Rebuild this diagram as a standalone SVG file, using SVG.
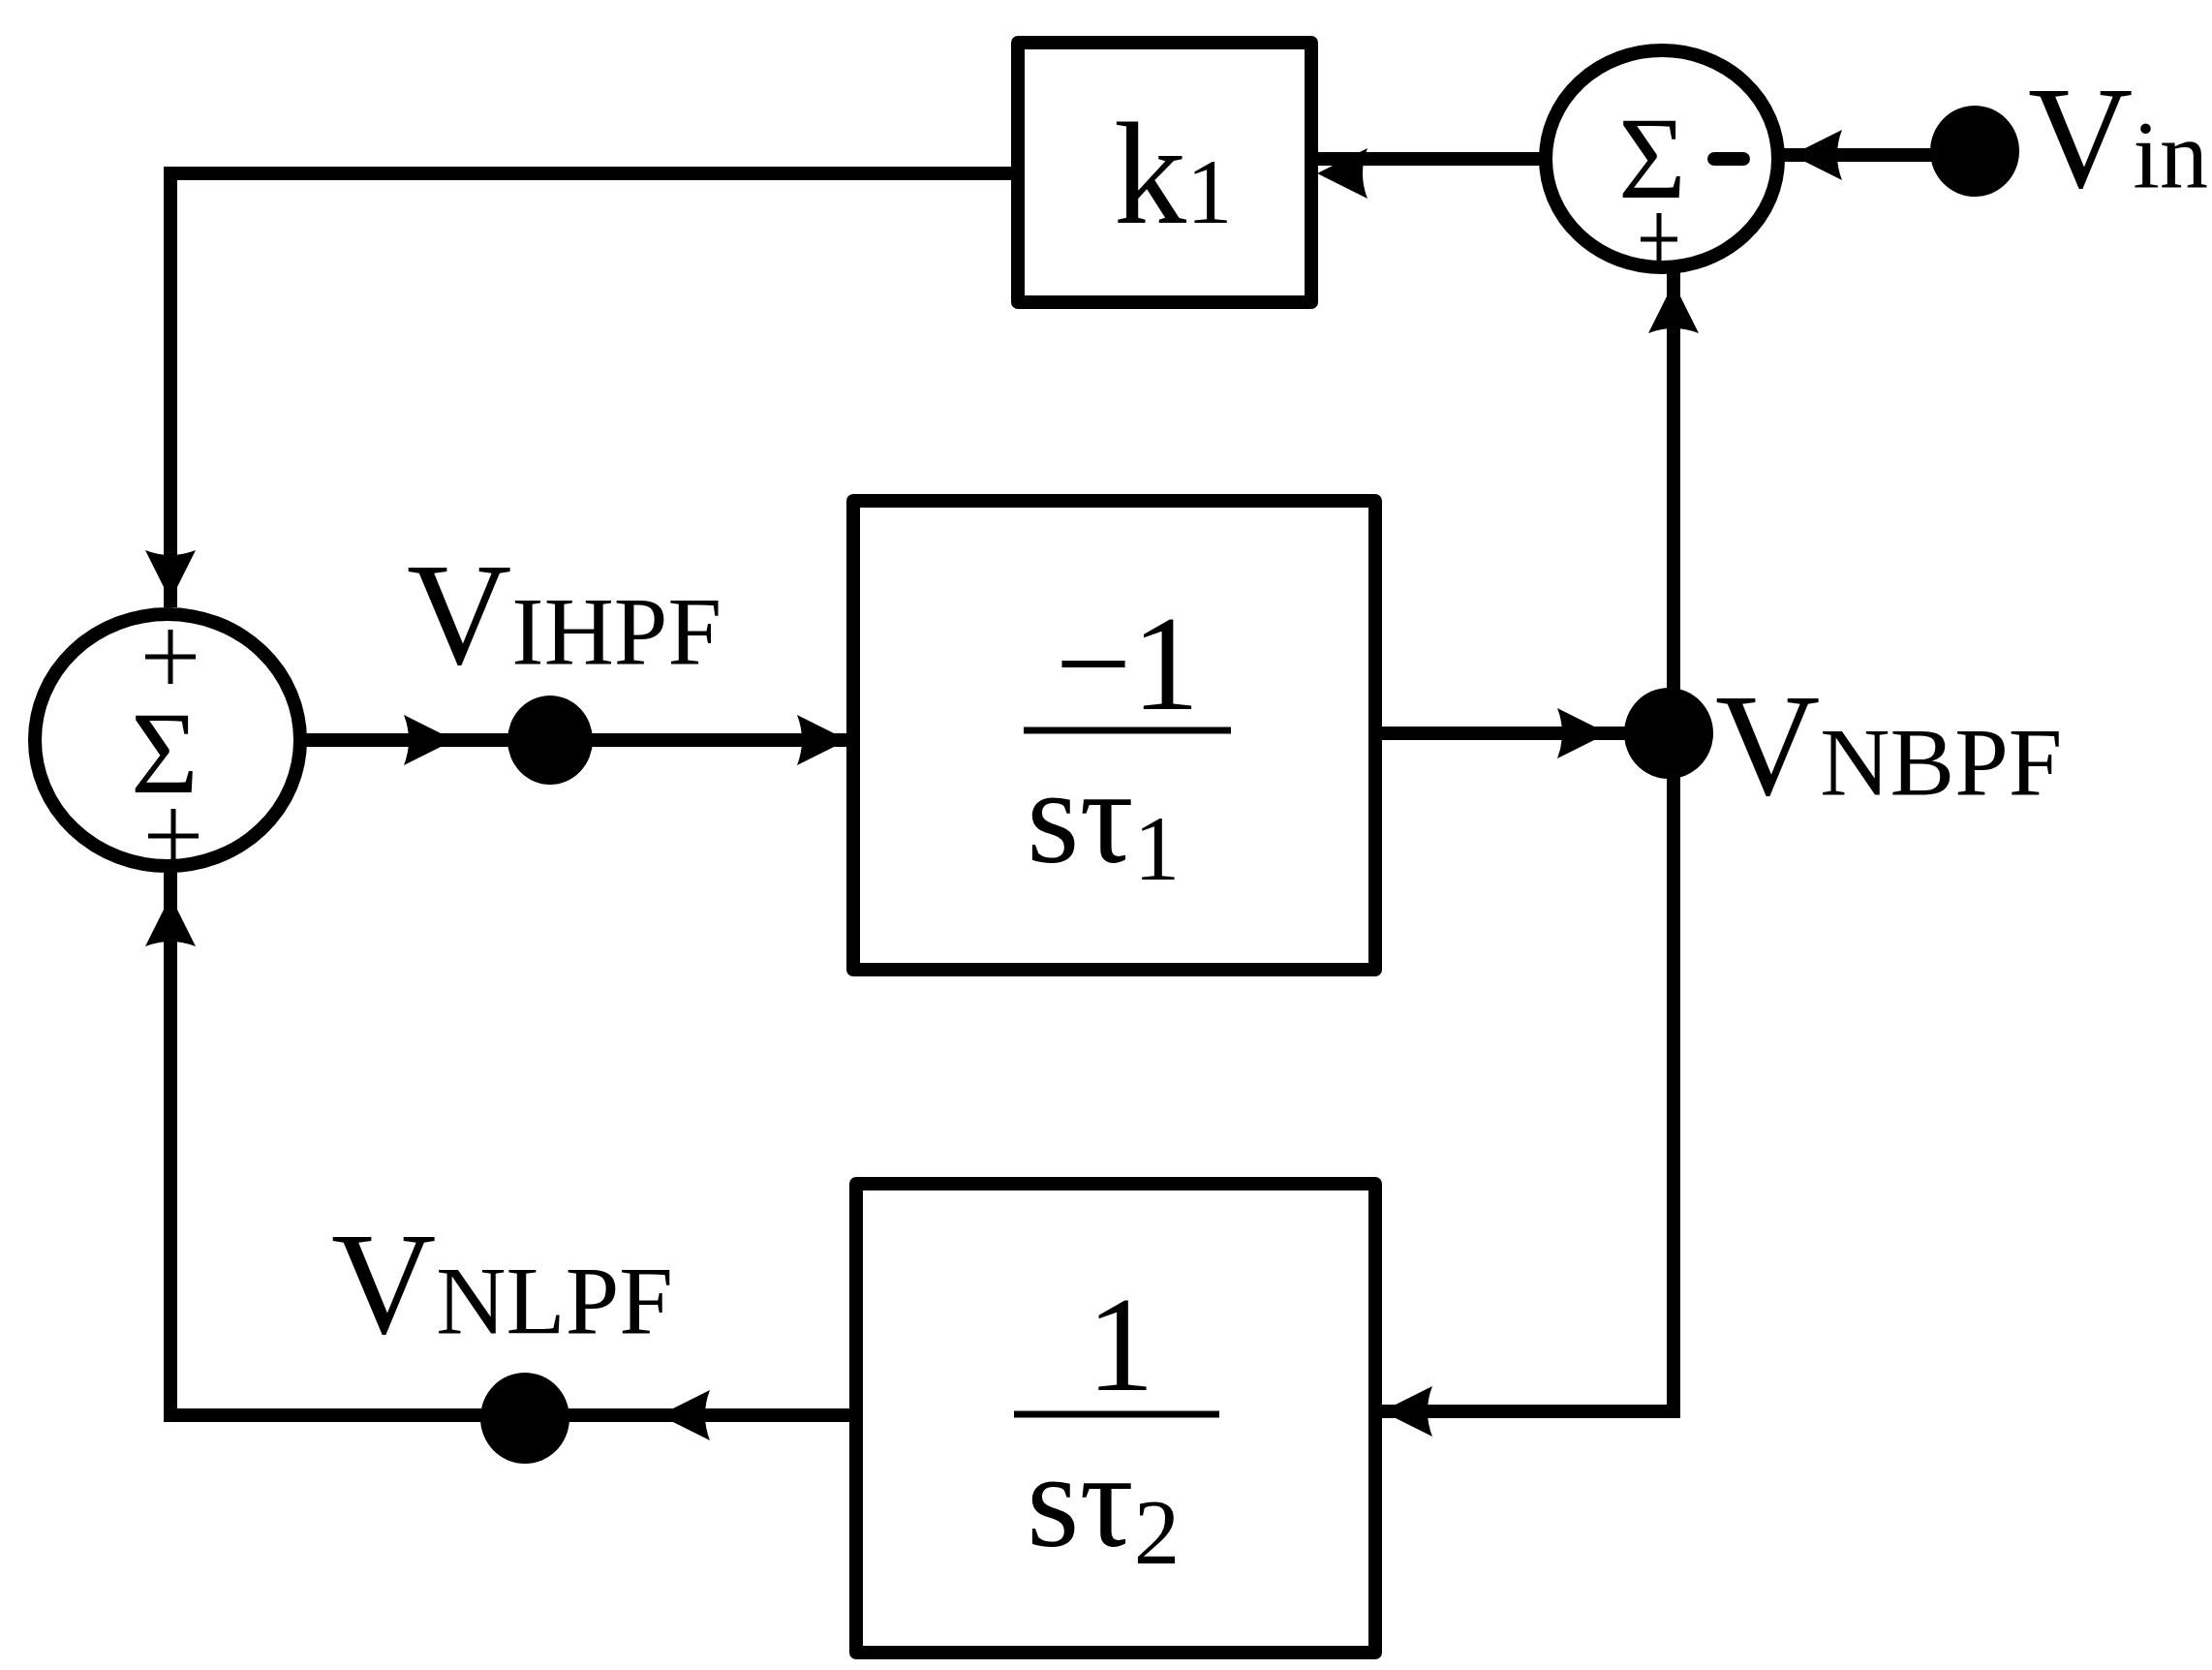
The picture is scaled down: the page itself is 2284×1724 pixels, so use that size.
<svg xmlns="http://www.w3.org/2000/svg" width="2284" height="1724" viewBox="0 0 2284 1724">
<style>
.l{fill:none;stroke:#000;stroke-width:14;stroke-linecap:square}
.b{fill:#fff;stroke:#000;stroke-width:14;stroke-linejoin:round}
.t{font-family:"Liberation Serif","Times New Roman",serif;fill:#000}
.th{stroke:#000;stroke-width:5;fill:none}
</style>
<defs>
<path id="ar" d="M0,0 L-52,-26 Q-42,0 -52,26 Z"/>
</defs>
<rect width="2284" height="1724" fill="#fff"/>
<g id="connectors">
<path class="l" d="M1040,179 H176 V620"/>
<path class="l" d="M1593,164 H1350"/>
<path class="l" d="M2039,160 H1845"/>
<path class="l" d="M1728,280 V1457 H1430"/>
<path class="l" d="M1420,757 H1723"/>
<path class="l" d="M312,764 H881"/>
<path class="l" d="M884,1461 H176 V900"/>
<use href="#ar" transform="translate(1360,179) rotate(180)"/>
<use href="#ar" transform="translate(1850,160) rotate(180)"/>
<use href="#ar" transform="translate(1728,292) rotate(-90)"/>
<use href="#ar" transform="translate(1660,757)"/>
<use href="#ar" transform="translate(1427,1457) rotate(180)"/>
<use href="#ar" transform="translate(681,1461) rotate(180)"/>
<use href="#ar" transform="translate(176,925) rotate(-90)"/>
<use href="#ar" transform="translate(469,764)"/>
<use href="#ar" transform="translate(875,764)"/>
<use href="#ar" transform="translate(176,620) rotate(90)"/>
</g>
<g id="sum1">
<ellipse class="b" cx="1716" cy="164" rx="120" ry="112"/>
<text class="t" x="1706" y="204" font-size="120" text-anchor="middle">Σ</text>
<line x1="1770" y1="164" x2="1800" y2="164" stroke="#000" stroke-width="14" stroke-linecap="round"/>
<path class="th" d="M1713,220 V275 M1694,247 H1732"/>
</g>
<g id="sum2">
<ellipse class="b" cx="173" cy="764" rx="137" ry="130"/>
<text class="t" x="170" y="818" font-size="120" text-anchor="middle">Σ</text>
<path class="th" d="M176,650 V706 M150,678 H202"/>
<path class="th" d="M179,835 V893 M153,863 H205"/>
</g>
<g id="k1">
<rect class="b" x="1051" y="44" width="303" height="268"/>
<text class="t" x="1150" y="230" font-size="150">k<tspan font-size="95">1</tspan></text>
</g>
<g id="int1">
<rect class="b" x="881" y="517" width="539" height="484"/>
<text class="t" x="1164" y="732" font-size="140" text-anchor="middle">−1</text>
<line x1="1057" y1="754" x2="1271" y2="754" stroke="#000" stroke-width="7"/>
<text class="t" x="1060" y="890" font-size="140">sτ<tspan font-size="95" dy="18">1</tspan></text>
</g>
<g id="int2">
<rect class="b" x="884" y="1222" width="536" height="484"/>
<text class="t" x="1157" y="1435" font-size="140" text-anchor="middle">1</text>
<line x1="1047" y1="1460" x2="1259" y2="1460" stroke="#000" stroke-width="7"/>
<text class="t" x="1060" y="1596" font-size="140">sτ<tspan font-size="95" dy="18">2</tspan></text>
</g>
<g id="vin">
<ellipse cx="2039" cy="156" rx="46" ry="47"/>
<text class="t" x="2094" y="193" font-size="150">V<tspan font-size="100">in</tspan></text>
</g>
<g id="vihpf">
<ellipse cx="568" cy="764" rx="44" ry="46"/>
<text class="t" x="420" y="685" font-size="150">V<tspan font-size="100">IHPF</tspan></text>
</g>
<g id="vnbpf">
<ellipse cx="1723" cy="757" rx="46" ry="47"/>
<text class="t" x="1771" y="820" font-size="150">V<tspan font-size="100">NBPF</tspan></text>
</g>
<g id="vnlpf">
<ellipse cx="542" cy="1464" rx="46" ry="47"/>
<text class="t" x="342" y="1376" font-size="150">V<tspan font-size="100">NLPF</tspan></text>
</g>
</svg>
